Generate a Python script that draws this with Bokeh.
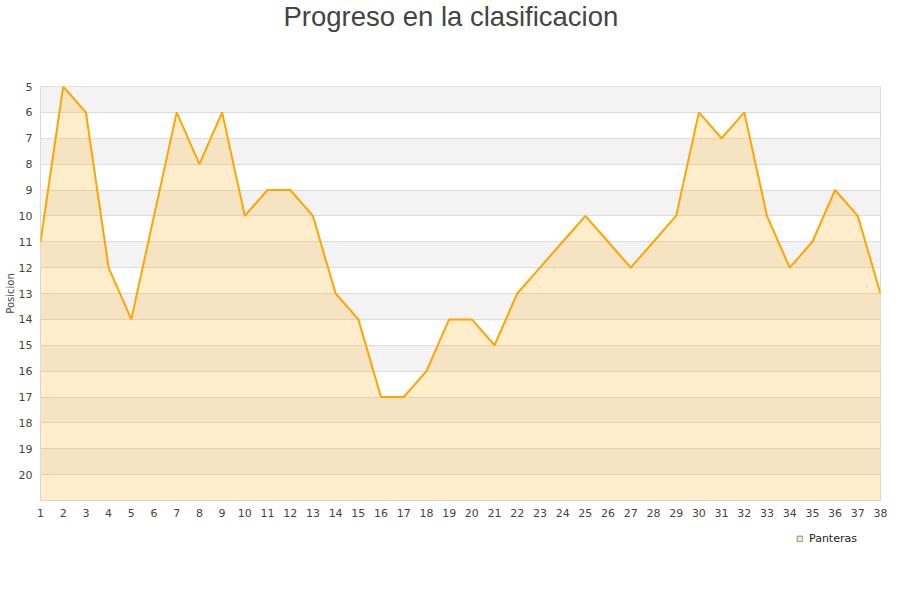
from bokeh.plotting import figure
from bokeh.layouts import column
from bokeh.models import Range1d, FixedTicker, BoxAnnotation, Legend, LegendItem
from bokeh.embed import file_html
from bokeh.resources import INLINE

jornadas = list(range(1, 39))
posiciones = [11, 5, 6, 12, 14, 10, 6, 8, 6, 10, 9, 9, 10, 13, 14, 17, 17, 16, 14, 14,
              15, 13, 12, 11, 10, 11, 12, 11, 10, 6, 7, 6, 10, 12, 11, 9, 10, 13]
y_ticks = list(range(5, 21))
equipo = "Panteras"
titulo = "Progreso en la clasificacion"
eje_y = "Posicion"

W = 892

def strip(height):
    f = figure(width=W, height=height, output_backend="svg", toolbar_location=None,
               x_range=Range1d(0, 1), y_range=Range1d(0, 1),
               x_axis_location=None, y_axis_location=None,
               min_border_left=0, min_border_right=0, min_border_top=0, min_border_bottom=0)
    f.grid.visible = False
    f.outline_line_color = None
    f.background_fill_color = "white"
    f.border_fill_color = "white"
    return f

# title strip
tt = strip(35)
tt.title.text = titulo
tt.title.align = "left"
tt.title.offset = 243
tt.title.vertical_align = "top"
tt.title.text_font = "Liberation Sans"
tt.title.text_font_size = "27.5px"
tt.title.text_font_style = "normal"
tt.title.text_color = "#444444"
tt.title.standoff = 0

p = figure(width=W, height=495, output_backend="svg", toolbar_location=None,
           x_range=Range1d(1, 38), y_range=Range1d(21, 5),
           min_border_left=40, min_border_right=12, min_border_top=51, min_border_bottom=30)
p.background_fill_color = "white"
p.border_fill_color = "white"
p.outline_line_color = "#d9d9d9"

# alternating bands
for b in y_ticks[::2]:
    p.add_layout(BoxAnnotation(bottom=b, top=b + 1, fill_color="#f3f3f3", fill_alpha=1,
                               line_alpha=0, level="image"))

p.xgrid.visible = False
p.ygrid.ticker = FixedTicker(ticks=y_ticks + [21])
p.ygrid.grid_line_color = "#dddddd"
p.ygrid.grid_line_width = 1

p.varea(x=jornadas, y1=posiciones, y2=[21] * len(jornadas),
        fill_color="#ffa500", fill_alpha=0.2)
p.line(jornadas, posiciones, line_color="#ffa500", line_width=2)

for ax in (p.xaxis, p.yaxis):
    ax.axis_line_color = None
    ax.major_tick_line_color = None
    ax.minor_tick_line_color = None
    ax.major_tick_out = 0
    ax.major_tick_in = 0
    ax.major_label_text_font = "DejaVu Sans"
    ax.major_label_text_font_size = "11px"
    ax.major_label_text_color = "#444444"

p.xaxis.ticker = FixedTicker(ticks=jornadas)
p.xaxis.major_label_standoff = 8
p.yaxis.ticker = FixedTicker(ticks=y_ticks)
p.yaxis.major_label_standoff = 8
p.yaxis.axis_label = eje_y
p.yaxis.axis_label_standoff = 0
p.yaxis.axis_label_text_font = "DejaVu Sans"
p.yaxis.axis_label_text_font_size = "10px"
p.yaxis.axis_label_text_font_style = "normal"
p.yaxis.axis_label_text_color = "#444444"

# legend strip below the chart (frames are aligned with the chart's frame)
lg = strip(62)
dummy = lg.quad(left=[5], right=[6], top=[5], bottom=[4], fill_color="#ffe6bd", fill_alpha=1,
                line_color="#8a8a8a", line_width=1)
legend = Legend(items=[LegendItem(label=equipo, renderers=[dummy])],
                location=(756, 47), padding=0, margin=0, border_line_alpha=0,
                background_fill_alpha=0, glyph_width=7, glyph_height=7,
                label_text_font="DejaVu Sans", label_text_font_size="11px",
                label_text_color="#222222", label_standoff=6, label_height=13)
lg.add_layout(legend, "center")

open("out.html", "w").write(file_html(column(tt, p, lg), INLINE))
